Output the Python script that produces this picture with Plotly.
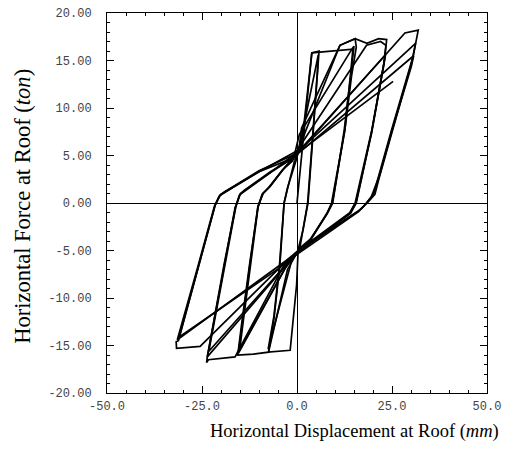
import plotly.graph_objects as go

# ---- data: hysteresis cycles (displacement mm, force ton) ----
c1_x = [0.0, 0.6, 1.2, 3.9, 5.8, 4.3, 2.9, 1.6, 0.3, -0.1, -1.8, -7.5, -6.0, -4.5, -3.4, -2.5, -1.0, 0.0]
c1_y = [0.0, 2.6, 4.9, 15.8, 16.0, 7.7, 0.0, -2.8, -4.9, -8.6, -15.5, -15.7, -12.0, -6.5, 0.0, 1.6, 3.6, 4.8]

c2_x = [0.0, 1.0, 5.6, 5.4, 4.2, 2.8, 0.8, -1.5, -7.6, -6.1, -4.6, -3.4, -2.3, -0.6]
c2_y = [4.8, 6.6, 15.6, 14.0, 7.5, 0.0, -4.6, -6.2, -15.4, -12.0, -6.5, 0.0, 1.8, 4.5]

c3_x = [-0.6, 1.2, 3.9, 9.0, 14.7, 14.2, 12.6, 9.1, 7.8, 3.5, 0.6, -2.5, -7.5, -11.5, -15.6, -14.5, -12.5, -10.3, -9.2, -7.5, -4.0, 0.4]
c3_y = [4.5, 6.0, 15.8, 16.0, 16.2, 14.0, 7.7, 0.0, -1.2, -3.8, -4.8, -7.0, -15.7, -15.9, -16.0, -12.5, -6.5, -0.5, 0.9, 1.6, 3.4, 5.3]

c4_x = [0.4, 1.2, 11.3, 15.3, 15.6, 14.4, 12.6, 9.3, 8.0, 3.5, -0.5, -3.0, -15.4, -14.4, -12.4, -10.3, -9.0, -7.2, -3.5, -1.0]
c4_y = [5.3, 7.9, 16.6, 17.3, 16.4, 13.5, 7.7, 0.0, -1.0, -3.9, -5.3, -6.8, -15.8, -12.5, -6.5, -0.4, 1.0, 1.7, 3.6, 4.5]

c5_x = [-1.0, 0.6, 14.6, 15.0, 14.1, 12.4, 9.4, 8.1, 3.6, 0.8, -3.2, -15.1, -14.1, -12.2, -10.2, -8.9, -7.0, -3.3, 0.6]
c5_y = [4.5, 7.2, 16.3, 16.5, 13.3, 7.6, 0.0, -1.0, -3.9, -4.9, -6.9, -15.5, -12.3, -6.4, -0.3, 1.0, 1.8, 3.7, 5.5]

c6_x = [0.6, 2.0, 11.3, 15.3, 18.4, 21.5, 23.6, 23.0, 19.7, 15.3, 13.8, 8.0, 0.0, -3.5, -16.3, -20.0, -23.3, -23.8, -23.6, -19.2, -16.2, -15.2, -14.0, -7.0, -1.5]
c6_y = [5.5, 7.3, 16.6, 17.3, 16.8, 17.3, 17.2, 15.0, 7.7, 0.0, -1.1, -2.9, -5.2, -6.6, -16.2, -16.4, -16.5, -16.8, -16.2, -6.5, -0.5, 0.8, 1.3, 3.3, 4.6]

c7_x = [-1.5, 18.3, 22.0, 23.4, 22.8, 19.7, 15.5, 14.0, 1.0, -2.5, -23.6, -19.2, -16.3, -15.0, -7.0, 0.8]
c7_y = [4.6, 16.6, 17.0, 16.6, 14.5, 7.5, 0.0, -1.0, -4.8, -6.4, -16.2, -6.6, -0.5, 0.9, 3.2, 5.6]

c8_x = [0.8, 22.9, 23.3, 22.6, 19.6, 15.6, 14.1, -0.8, -3.8, -23.2, -19.0, -16.1, -14.9, -7.0, -0.8]
c8_y = [5.6, 15.4, 15.6, 14.0, 7.4, 0.0, -1.1, -5.5, -6.9, -15.6, -6.4, -0.4, 1.0, 3.2, 4.8]

c9_x = [-0.8, 28.4, 31.9, 30.6, 24.9, 21.4, 20.2, 18.3, 16.2, 8.0, 0.0, -4.0, -25.5, -31.7, -31.8, -31.2, -26.2, -21.6, -20.5, -19.0, -10.0, 1.0]
c9_y = [4.8, 17.9, 18.2, 15.5, 7.7, 2.8, 1.0, 0.0, -0.9, -3.2, -5.4, -6.6, -15.1, -15.3, -14.6, -14.5, -7.0, -0.3, 0.7, 1.2, 3.3, 5.7]

c10_x = [1.0, 30.8, 31.2, 30.3, 24.9, 21.6, 20.5, 18.5, 16.0, 0.8, -3.0, -31.5, -26.3, -21.7, -20.3, -10.0, -1.2]
c10_y = [5.7, 16.6, 16.8, 15.0, 7.4, 2.6, 0.9, 0.0, -0.9, -4.9, -6.1, -14.4, -7.0, -0.3, 0.8, 3.3, 4.7]

c11_x = [-1.2, 30.7, 30.1, 24.7, 21.7, 19.5, 17.0, -0.5, -4.5, -31.0, -26.0, -21.5, -20.1, -10.0, 0.3]
c11_y = [4.7, 15.5, 14.4, 7.2, 2.9, 0.6, -0.6, -5.3, -6.8, -14.1, -6.8, -0.2, 0.9, 3.4, 5.3]

c12_x = [0.3, 25.3]
c12_y = [5.3, 12.8]

cycles = [(c1_x, c1_y), (c2_x, c2_y), (c3_x, c3_y), (c4_x, c4_y), (c5_x, c5_y),
          (c6_x, c6_y), (c7_x, c7_y), (c8_x, c8_y), (c9_x, c9_y), (c10_x, c10_y),
          (c11_x, c11_y), (c12_x, c12_y)]

x_tick_vals = [-50, -25, 0, 25, 50]
x_tick_text = ["-50.0", "-25.0", "0.0", "25.0", "50.0"]
y_tick_vals = [-20, -15, -10, -5, 0, 5, 10, 15, 20]
y_tick_text = ["-20.00", "-15.00", "-10.00", "-5.00", "0.00", "5.00", "10.00", "15.00", "20.00"]

fig = go.Figure()
for cx, cy in cycles:
    fig.add_trace(go.Scatter(x=cx, y=cy, mode="lines",
                             line=dict(color="black", width=1.7),
                             showlegend=False, hoverinfo="skip"))

tick_font = dict(family="Liberation Mono", size=12, color="#444444")
axis_common = dict(showline=True, linecolor="black", linewidth=1, mirror="ticks",
                   ticks="inside", ticklen=7, tickcolor="black", tickwidth=1,
                   showgrid=False, zeroline=True, zerolinecolor="black", zerolinewidth=1,
                   tickfont=tick_font, automargin=False, ticklabeloverflow="allow")

fig.update_xaxes(range=[-50, 50], tickmode="array", tickvals=x_tick_vals, ticktext=x_tick_text,
                 minor=dict(dtick=5, tick0=0, ticklen=3, ticks="inside", tickcolor="black"),
                 ticklabelstandoff=2, **axis_common)
fig.update_yaxes(range=[-20, 20], tickmode="array", tickvals=y_tick_vals, ticktext=y_tick_text,
                 minor=dict(dtick=1, tick0=0, ticklen=3, ticks="inside", tickcolor="black"),
                 ticklabelstandoff=12, **axis_common)

# page body adds an 8 px offset, so margins are shifted to keep the frame at 107..487 x 13..393
fig.update_layout(
    width=510, height=453,
    margin=dict(l=99, r=31, t=5, b=68),
    plot_bgcolor="white", paper_bgcolor="white",
    annotations=[
        dict(text="Horizontal Displacement at Roof (<i>mm</i>)", xref="paper", yref="paper",
             x=0.65, y=-0.10, xanchor="center", yanchor="middle", showarrow=False,
             font=dict(family="Liberation Serif", size=18.5, color="black")),
        dict(text="Horizontal Force at Roof (<i>ton</i>)", xref="paper", yref="paper",
             x=-0.221, y=0.49, xanchor="center", yanchor="middle", textangle=-90,
             showarrow=False, font=dict(family="Liberation Serif", size=22.5, color="black")),
    ],
)

fig.write_html("out.html")
